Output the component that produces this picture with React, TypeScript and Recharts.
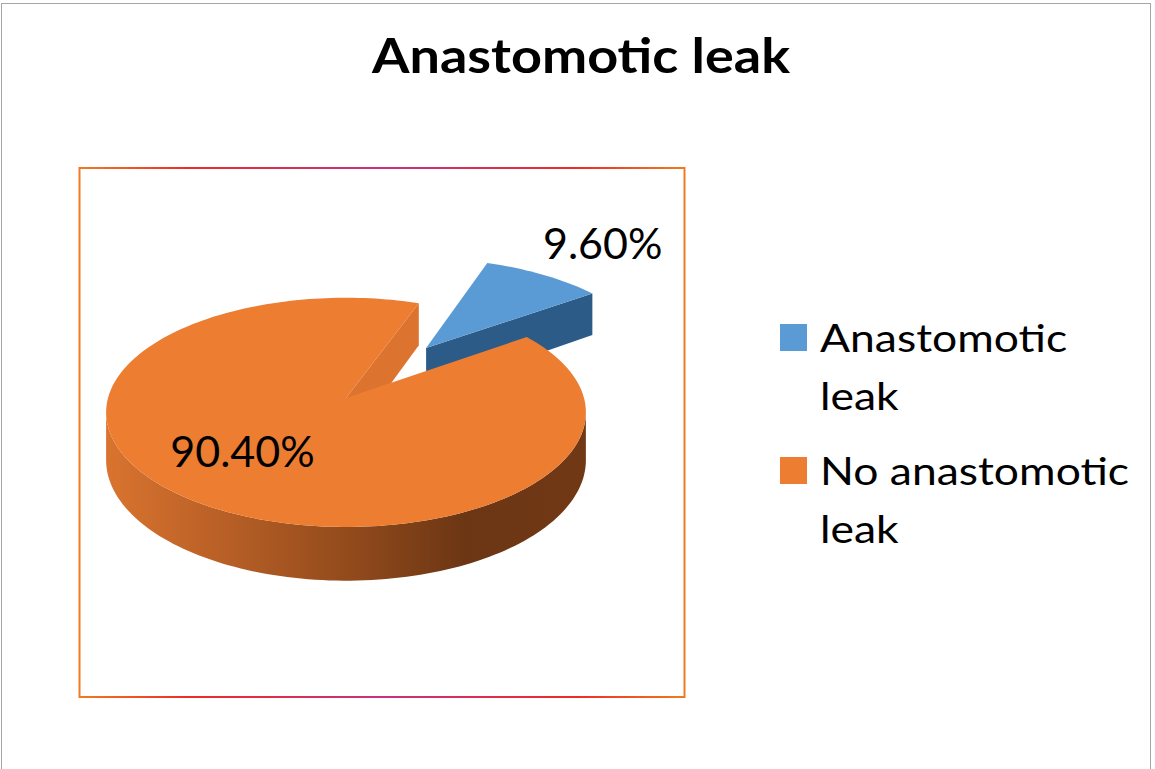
import React from 'react';
import { PieChart, Pie, Legend, Tooltip } from 'recharts';

// ---------- data ----------
const categories = ['Anastomotic leak', 'No anastomotic leak'];
const percentages = [9.6, 90.4];
const sliceColors = ['#5B9BD5', '#ED7D31'];
const chartTitle = 'Anastomotic leak';
const explodedCategory = 'Anastomotic leak';

const pieData = categories.map((name, i) => ({ name, value: percentages[i], fill: sliceColors[i] }));

// ---------- 3D look ----------
const RAD = Math.PI / 180;
const CAM = 1900;
const TILT = 0.474;
const DEPTH = 47;
const EXPLODE = 140;
const FONT = 'Lato, "Open Sans", "Noto Sans", sans-serif';
const LEGEND_STRETCH = 1.17;

const wallStops: string[][] = [
  ['#2f6293', '#2a5784', '#25507a'],
  ['#d9732f', '#b75f26', '#934b1c', '#6c3614', '#713815'],
];
const faceColors = ['#2c5b88', '#dc7430'];

const proj = (cx: number, cy: number, u: number, v: number, z: number): [number, number] => {
  const k = CAM / (CAM + v);
  return [cx + u * k, cy - (v * TILT + z) * k];
};
const f = (p: [number, number]) => `${p[0].toFixed(2)},${p[1].toFixed(2)}`;

function Slice3D(props: any) {
  const { cx, cy, outerRadius, startAngle, endAngle } = props;
  const name = props.payload?.name ?? props.name;
  const idx = Math.max(0, categories.indexOf(name));
  const R = outerRadius;
  const span = endAngle - startAngle;
  const midR = ((startAngle + endAngle) / 2) * RAD;
  const e = name === explodedCategory ? EXPLODE : 0;
  const ou = e * Math.cos(midR);
  const ov = e * Math.sin(midR);
  const n = Math.max(4, Math.ceil(Math.abs(span) / 1.5));
  const pts: [number, number][] = [];
  for (let i = 0; i <= n; i++) {
    const a = (startAngle + (span * i) / n) * RAD;
    pts.push([ou + R * Math.cos(a), ov + R * Math.sin(a)]);
  }
  const P = (u: number, v: number, z: number) => proj(cx, cy, u, v, z);

  // outer wall runs (front facing only)
  const runs: number[][] = [];
  let cur: number[] | null = null;
  for (let i = 0; i < n; i++) {
    const a = (startAngle + (span * (i + 0.5)) / n) * RAD;
    const mu = ou + R * Math.cos(a);
    const mv = ov + R * Math.sin(a);
    const vis = Math.cos(a) * (0 - mu) + Math.sin(a) * (-CAM - mv) > 0;
    if (vis) {
      if (!cur) {
        cur = [i];
        runs.push(cur);
      }
      cur.push(i + 1);
    } else cur = null;
  }
  const wallPaths = runs.map((run) => {
    const top = run.map((i) => f(P(pts[i][0], pts[i][1], 0)));
    const bot = run.slice().reverse().map((i) => f(P(pts[i][0], pts[i][1], -DEPTH)));
    return `M${top.join('L')}L${bot.join('L')}Z`;
  });

  // radial faces
  const dir = Math.sign(span) || 1;
  const faces: string[] = [];
  if (Math.abs(span) < 359.9) {
    [startAngle, endAngle].forEach((ang: number, j: number) => {
      const a = ang * RAD;
      const nx = j === 0 ? dir * Math.sin(a) : -dir * Math.sin(a);
      const ny = j === 0 ? -dir * Math.cos(a) : dir * Math.cos(a);
      const mu = ou + (R / 2) * Math.cos(a);
      const mv = ov + (R / 2) * Math.sin(a);
      if (nx * (0 - mu) + ny * (-CAM - mv) > 0) {
        const ru = ou + R * Math.cos(a);
        const rv = ov + R * Math.sin(a);
        faces.push(
          `M${f(P(ou, ov, 0))}L${f(P(ru, rv, 0))}L${f(P(ru, rv, -DEPTH))}L${f(P(ou, ov, -DEPTH))}Z`
        );
      }
    });
  }

  const topPath = `M${f(P(ou, ov, 0))}L${pts.map((p) => f(P(p[0], p[1], 0))).join('L')}Z`;
  const gid = `wall-grad-${idx}`;
  const stops = wallStops[idx] || wallStops[0];
  return (
    <g>
      <defs>
        <linearGradient id={gid} gradientUnits="userSpaceOnUse" x1={cx - R} y1={0} x2={cx + R} y2={0}>
          {stops.map((c, i) => (
            <stop key={i} offset={i / (stops.length - 1)} stopColor={c} />
          ))}
        </linearGradient>
      </defs>
      {wallPaths.map((d, i) => (
        <path key={`w${i}`} d={d} fill={`url(#${gid})`} stroke="none" />
      ))}
      {faces.map((d, i) => (
        <path key={`f${i}`} d={d} fill={faceColors[idx]} stroke="none" />
      ))}
      <path d={topPath} fill={sliceColors[idx]} stroke="none" />
    </g>
  );
}

function renderLabel(props: any) {
  const { cx, cy, midAngle, outerRadius, percent, value, name } = props;
  const inside = percent > 0.5;
  const e = name === explodedCategory ? EXPLODE : 0;
  const r = inside ? outerRadius * 0.64 : outerRadius + e + 130;
  const a = midAngle * RAD;
  const [x, y] = proj(cx, cy, r * Math.cos(a), r * Math.sin(a), 0);
  return (
    <text
      x={x + (inside ? -5 : 3)}
      y={y + (inside ? 8 : 19)}
      textAnchor="middle"
      fontFamily={FONT}
      fontSize={43}
      fill="#000"
    >
      {`${Number(value).toFixed(2)}%`}
    </text>
  );
}

function LegendContent(props: any) {
  const payload = props.payload || [];
  return (
    <svg width={370} height={250} style={{ overflow: 'visible' }}>
      {payload.map((entry: any, i: number) => {
        const label: string = String(entry.value);
        const cut = label.lastIndexOf(' ');
        const lines = cut > 0 ? [label.slice(0, cut), label.slice(cut + 1)] : [label];
        const y0 = 14 + i * 133;
        return (
          <g key={i}>
            <rect x={10} y={y0} width={27} height={27} fill={entry.color} />
            {lines.map((ln, j) => (
              <text
                key={j}
                transform={`translate(50, ${y0 + 28 + j * 58}) scale(${LEGEND_STRETCH}, 1)`}
                fontFamily={FONT}
                fontSize={38}
                fill="#000"
              >
                {ln}
              </text>
            ))}
          </g>
        );
      })}
    </svg>
  );
}

export default function App() {
  return (
    <div
      style={{
        position: 'absolute',
        left: 0,
        top: 0,
        width: 1155,
        height: 769,
        background: '#fff',
        overflow: 'hidden',
      }}
    >
      <div style={{ position: 'absolute', left: 0, top: 0 }}>
        <PieChart width={1155} height={769} margin={{ top: 0, right: 0, bottom: 0, left: 0 }}>
          <Pie
            data={pieData}
            dataKey="value"
            nameKey="name"
            cx={346}
            cy={398}
            outerRadius={238}
            startAngle={70}
            endAngle={-290}
            stroke="none"
            isAnimationActive={false}
            label={renderLabel}
            labelLine={false}
            shape={Slice3D}
            activeShape={Slice3D}
            inactiveShape={Slice3D}
          />
          <Tooltip defaultIndex={0} content={() => null} cursor={false} />
          <Legend
            layout="vertical"
            align="right"
            verticalAlign="middle"
            content={LegendContent}
            wrapperStyle={{ left: 770, top: 310, right: 'auto', bottom: 'auto', width: 370, height: 250 }}
          />
        </PieChart>
      </div>
      <svg
        width={1155}
        height={769}
        style={{ position: 'absolute', left: 0, top: 0, pointerEvents: 'none' }}
      >
        <defs>
          <linearGradient id="plotBorder" x1="0" y1="0" x2="1" y2="0">
            <stop offset="0" stopColor="#f07a22" />
            <stop offset="0.18" stopColor="#ee2b26" />
            <stop offset="0.5" stopColor="#c8307f" />
            <stop offset="0.82" stopColor="#ee2b26" />
            <stop offset="1" stopColor="#f07a22" />
          </linearGradient>
        </defs>
        <rect x={1.5} y={3.5} width={1149} height={800} fill="none" stroke="#a6a6a6" strokeWidth={1} />
        <rect x={79.5} y={168} width={605} height={529} fill="none" stroke="url(#plotBorder)" strokeWidth={2} />
        <text
          x={581}
          y={73}
          textAnchor="middle"
          fontFamily={FONT}
          fontWeight={700}
          fontSize={47}
          fill="#000"
          textLength={418}
          lengthAdjust="spacingAndGlyphs"
        >
          {chartTitle}
        </text>
      </svg>
    </div>
  );
}
